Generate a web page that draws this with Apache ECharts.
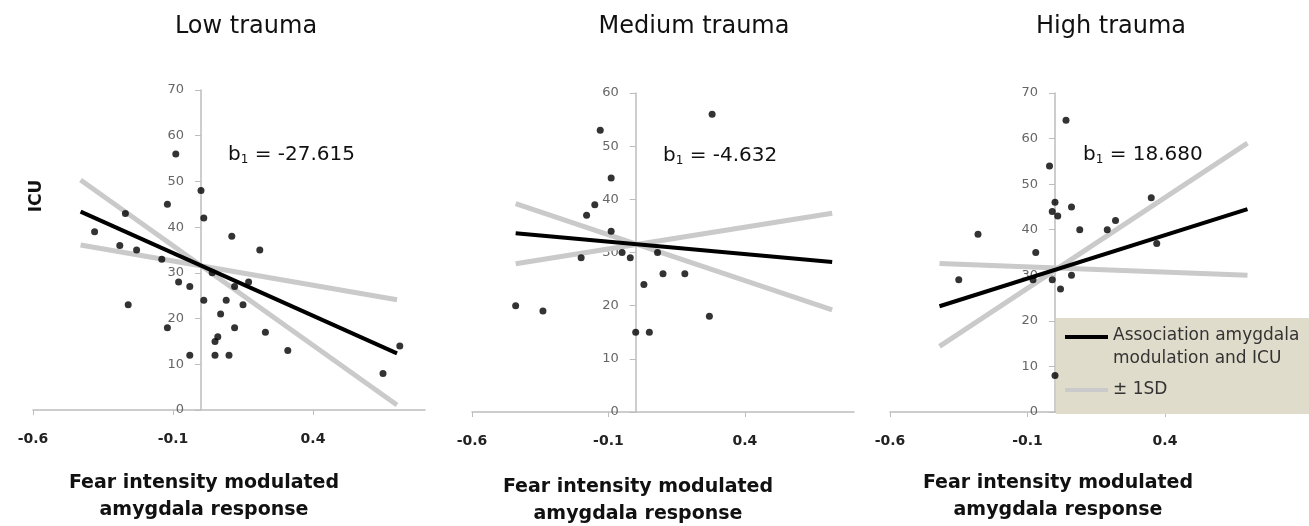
<!DOCTYPE html>
<html>
<head>
<meta charset="utf-8">
<script src="https://cdn.jsdelivr.net/npm/echarts@6/dist/echarts.min.js"></script>
<style>
html,body{margin:0;padding:0;background:#fff;}
#chart{width:1309px;height:526px;}
</style>
</head>
<body>
<div id="chart"></div>
<script>
// ---------- data ----------
const panelTitles = ['Low trauma', 'Medium trauma', 'High trauma'];
const slopeLabels = ['-27.615', '-4.632', '18.680'];
const xTickValues = [-0.6, -0.1, 0.4];
const yMaxes = [70, 60, 70];

const lowX = [-0.38,-0.27,-0.29,-0.23,-0.26,-0.09,-0.12,-0.14,-0.08,-0.04,-0.12,-0.04,0.00,0.01,0.04,0.01,0.09,0.07,0.11,0.06,0.05,0.05,0.10,0.12,0.15,0.12,0.17,0.21,0.23,0.31,0.65,0.71];
const lowY = [39,43,36,35,23,56,45,33,28,27,18,12,48,42,30,24,24,21,38,16,15,12,12,18,23,27,28,35,17,13,8,14];

const medX = [-0.44,-0.34,-0.13,-0.09,-0.15,-0.18,-0.09,-0.20,-0.05,-0.02,0.08,0.03,0.10,0.18,0.00,0.05,0.28,0.27];
const medY = [20,19,53,44,39,37,34,29,30,29,30,24,26,26,15,15,56,18];

const highX = [-0.35,-0.28,-0.07,-0.02,0.00,-0.01,0.01,0.04,0.06,0.09,0.19,0.22,0.35,0.37,-0.08,-0.01,0.06,0.02,0.00];
const highY = [29,39,35,54,46,44,43,64,45,40,40,42,47,37,29,29,30,27,8];

// regression line end points and ±1SD lines
const lowLineX = [-0.43, 0.70];
const lowFit = [43.4, 12.4];
const lowSdA = [50.3, 1.1];
const lowSdB = [36.1, 24.1];

const medLineX = [-0.44, 0.72];
const medFit = [33.6, 28.2];
const medSdA = [39.2, 19.2];
const medSdB = [27.9, 37.4];

const highLineX = [-0.42, 0.70];
const highFit = [23.2, 44.5];
const highSdA = [14.4, 59.0];
const highSdB = [32.6, 30.0];

const fitName = 'Association amygdala\nmodulation and ICU';
const sdName = '± 1SD';

// ---------- layout ----------
const X_MIN = -0.6, X_MAX = 0.8;
const grids = [
  {left: 33, top: 90, width: 392, height: 320},
  {left: 472, top: 93, width: 382, height: 319},
  {left: 890, top: 93, width: 385, height: 319}
];

const panels = [
  {x: lowX, y: lowY, lx: lowLineX, fit: lowFit, a: lowSdA, b: lowSdB},
  {x: medX, y: medY, lx: medLineX, fit: medFit, a: medSdA, b: medSdB},
  {x: highX, y: highY, lx: highLineX, fit: highFit, a: highSdA, b: highSdB}
];

const FONT = '"DejaVu Sans", "Liberation Sans", sans-serif';

function pairs(xs, ys) { return xs.map((v, i) => [v, ys[i]]); }

const xAxes = [], yAxes = [], series = [];
panels.forEach((p, i) => {
  const g = grids[i];
  // vertical axis crosses the horizontal axis at x = 0
  const zeroOffset = -g.width * (0 - X_MIN) / (X_MAX - X_MIN);
  xAxes.push({
    gridIndex: i, type: 'value', min: X_MIN, max: X_MAX,
    axisLine: {onZero: false, lineStyle: {color: '#bdbdbd', width: 1.5}},
    axisTick: {show: true, length: 5, customValues: xTickValues, lineStyle: {color: '#bdbdbd'}},
    axisLabel: {customValues: xTickValues, margin: 22, color: '#222', fontSize: 14, fontWeight: 'bold', fontFamily: FONT,
      formatter: v => v.toFixed(1)},
    splitLine: {show: false}
  });
  yAxes.push({
    gridIndex: i, type: 'value', min: 0, max: yMaxes[i], interval: 10,
    position: 'left', offset: zeroOffset,
    axisLine: {show: true, onZero: false, lineStyle: {color: '#bdbdbd', width: 1.5}},
    axisTick: {show: true, length: 6, lineStyle: {color: '#bdbdbd'}},
    axisLabel: {margin: 17, color: '#666', fontSize: 13, fontFamily: FONT},
    splitLine: {show: false}
  });
  const gray = {color: '#cacaca', width: 5};
  series.push({type: 'line', name: sdName, xAxisIndex: i, yAxisIndex: i, data: pairs(p.lx, p.a),
    symbol: 'none', lineStyle: gray, itemStyle: {color: '#cacaca'}, silent: true, z: 2});
  series.push({type: 'line', name: sdName, xAxisIndex: i, yAxisIndex: i, data: pairs(p.lx, p.b),
    symbol: 'none', lineStyle: gray, itemStyle: {color: '#cacaca'}, silent: true, z: 2});
  series.push({type: 'line', name: fitName, xAxisIndex: i, yAxisIndex: i, data: pairs(p.lx, p.fit),
    symbol: 'none', lineStyle: {color: '#000', width: 4}, itemStyle: {color: '#000'}, silent: true, z: 3});
  series.push({type: 'scatter', xAxisIndex: i, yAxisIndex: i, data: pairs(p.x, p.y),
    symbolSize: 7, itemStyle: {color: '#000'}, silent: true, z: 4});
});

const titleCenters = [246, 694, 1111];
const slopePos = [[228, 155], [663, 156], [1083, 155]];
const nameCenters = [[204, 470], [638, 474], [1058, 470]];

const graphics = [];
panelTitles.forEach((t, i) => {
  graphics.push({type: 'text', x: titleCenters[i], y: 27, z: 10,
    style: {text: t, fill: '#111', font: '24px ' + FONT, textAlign: 'center', textVerticalAlign: 'middle'}});
  graphics.push({type: 'text', x: slopePos[i][0], y: slopePos[i][1], z: 10,
    style: {text: '{m|b}{s|1}{m| = ' + slopeLabels[i] + '}', textVerticalAlign: 'middle',
      rich: {m: {fontSize: 20, fontFamily: FONT, fill: '#111', color: '#111'},
             s: {fontSize: 12, fontFamily: FONT, fill: '#111', color: '#111', padding: [10, 0, 0, 0]}}}});
  graphics.push({type: 'text', x: nameCenters[i][0], y: nameCenters[i][1], z: 10,
    style: {text: 'Fear intensity modulated\namygdala response', fill: '#111', font: 'bold 19px ' + FONT,
      textAlign: 'center', textVerticalAlign: 'top', lineHeight: 27}});
});
graphics.push({type: 'text', x: 37, y: 196, rotation: Math.PI / 2, z: 10,
  style: {text: 'ICU', fill: '#111', font: 'bold 17px ' + FONT, textAlign: 'center', textVerticalAlign: 'middle'}});

// legend icons: sample line at the top of a 43x24 box (first legend row), centred for the second
const fitIcon = 'path://M0,0L43,0L43,4L0,4Z M0,24L0.01,24';
const sdIcon = 'path://M0,10L43,10L43,14L0,14Z M0,0L0.01,0 M0,24L0.01,24';

const option = {
  animation: false,
  grid: grids,
  xAxis: xAxes,
  yAxis: yAxes,
  series: series,
  legend: {
    data: [{name: fitName, icon: fitIcon}, {name: sdName, icon: sdIcon}],
    orient: 'vertical', left: 1056, top: 318,
    itemWidth: 43, itemHeight: 24, itemGap: 8,
    padding: [6, 10, 12, 9],
    backgroundColor: '#dfdccb',
    selectedMode: false,
    textStyle: {fontSize: 17, lineHeight: 23, color: '#333', fontFamily: FONT}
  },
  graphic: graphics
};

const chart = echarts.init(document.getElementById('chart'), null, {renderer: 'canvas'});
chart.setOption(option);
</script>
</body>
</html>
